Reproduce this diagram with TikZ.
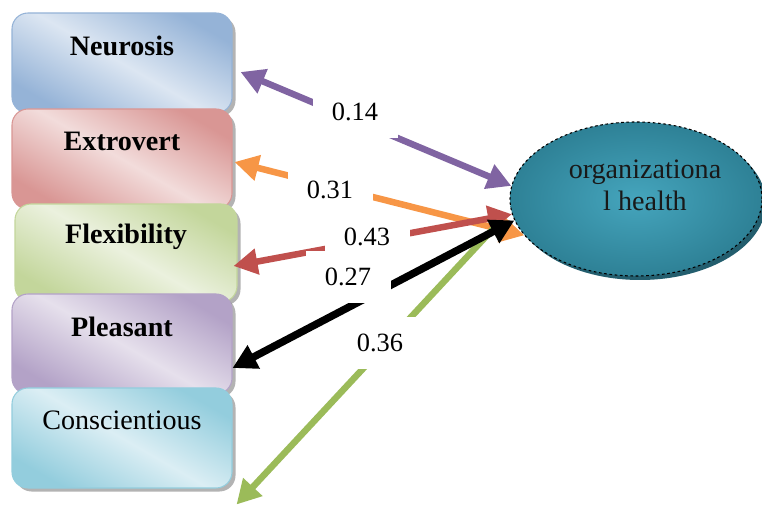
\documentclass[tikz,border=0pt]{standalone}
\usepackage{fontspec}
\setmainfont{Liberation Serif}
\usetikzlibrary{arrows.meta,shadows,shapes.geometric}
\definecolor{neuL}{HTML}{DCE6F2}
\definecolor{neuD}{HTML}{95B3D7}
\definecolor{extL}{HTML}{F2DCDB}
\definecolor{extD}{HTML}{D99694}
\definecolor{flexL}{HTML}{EBF1DE}
\definecolor{flexD}{HTML}{C3D69B}
\definecolor{pleaL}{HTML}{E6E0EC}
\definecolor{pleaD}{HTML}{B3A2C7}
\definecolor{consL}{HTML}{DBEEF4}
\definecolor{consD}{HTML}{93CDDD}
\definecolor{orgL}{HTML}{45A5BD}
\definecolor{orgD}{HTML}{2E8196}
\definecolor{orgS}{HTML}{235E6E}
\definecolor{purpleA}{HTML}{8064A2}
\definecolor{orangeA}{HTML}{F79646}
\definecolor{redA}{HTML}{C0504D}
\definecolor{greenA}{HTML}{9BBB59}
\begin{document}
\begin{tikzpicture}[
  Tri/.tip={Triangle[length=0.48cm,width=0.5cm]},
  pbox/.style 2 args={rectangle, rounded corners=0.32cm, minimum width=4.4cm,
    minimum height=2cm, draw=#2, line width=0.6pt, top color=#2, bottom color=#2,
    middle color=#1, shading angle=-30,
    drop shadow={shadow xshift=0.07cm, shadow yshift=-0.07cm, fill=black!50, opacity=0.6}},
  ptext/.style={anchor=center, yshift=-0.66cm, font=\bfseries\fontsize{16}{19}\selectfont},
  coef/.style={fill=white, font=\fontsize{15}{18}\selectfont, minimum width=1.7cm, minimum height=1.05cm},
  link/.style={line width=0.13cm, Tri-Tri},
]
\useasboundingbox (0,0) rectangle (15.24,10.16);
% the five traits
\node[pbox={neuL}{neuD}, label={[ptext]above:Neurosis}] (neu) at (2.44,8.90) {};
\node[pbox={extL}{extD}, label={[ptext]above:Extrovert}] (ext) at (2.44,6.98) {};
\node[pbox={flexL}{flexD}, minimum width=4.44cm, minimum height=1.96cm, label={[ptext]above:Flexibility}] (flex) at (2.52,5.10) {};
\node[pbox={pleaL}{pleaD}, label={[ptext]above:Pleasant}] (plea) at (2.44,3.28) {};
\node[pbox={consL}{consD}, label={[ptext, font=\fontsize{16}{19}\selectfont]above:Conscientious}] (cons) at (2.44,1.40) {};
% the organization
\node[ellipse, minimum width=5.04cm, minimum height=3.08cm, inner color=orgL, outer color=orgD,
  draw=black, dash pattern=on 1.5pt off 1.5pt, line width=0.6pt,
  drop shadow={shadow xshift=0.08cm, shadow yshift=-0.08cm, fill=orgS, opacity=1},
  label={[anchor=center, xshift=0.18cm, yshift=-1.28cm, align=center, text=black!90,
    font=\fontsize{16}{18}\selectfont]above:organizationa\\l health}] (org) at (12.72,6.18) {};
% correlations
\draw[link, color=purpleA] (org.174) -- ([xshift=0.16cm,yshift=-0.18cm]neu.east);
\draw[link, color=orangeA] (org.198) -- ([xshift=0.04cm,yshift=-0.06cm]ext.east);
\draw[link, color=redA] (org.187) -- ([xshift=-0.08cm,yshift=-0.26cm]flex.east);
\draw[line width=0.13cm, color=greenA, -Tri] ([xshift=-0.2cm,yshift=-0.46cm]org.west) -- ([xshift=0.08cm,yshift=-0.32cm]cons.south east);
\draw[link, line width=0.15cm, color=black] (org.190) -- ([yshift=-0.48cm]plea.east);
\node[coef] (c14) at (7.10,7.92) {0.14};
\node[coef] (c31) at (6.60,6.36) {0.31};
\node[coef] (c43) at (7.34,5.42) {0.43};
\node[coef] (c27) at (6.96,4.62) {0.27};
\node[coef] (c36) at (7.60,3.30) {0.36};
\end{tikzpicture}
\end{document}
